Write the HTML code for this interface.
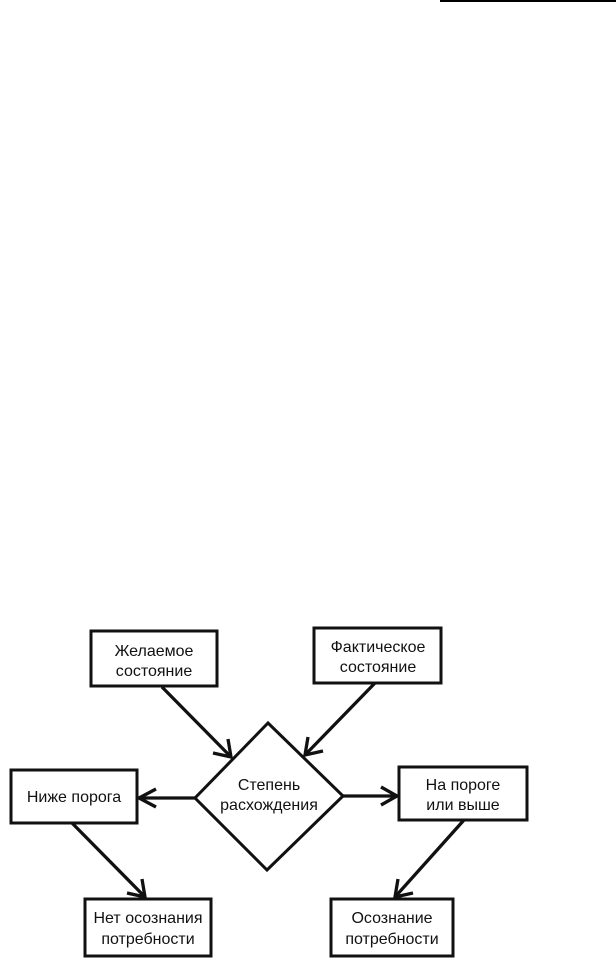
<!DOCTYPE html>
<html><head><meta charset="utf-8"><style>
html,body{margin:0;padding:0;background:#fff;}
svg{display:block;}
text{font-family:"Liberation Sans","DejaVu Sans",sans-serif;font-size:16px;fill:#111;text-anchor:middle;}
</style></head><body>
<svg width="616" height="973" viewBox="0 0 616 973" xmlns="http://www.w3.org/2000/svg">
<line x1="440" y1="1" x2="616" y2="1" stroke="#000" stroke-width="2"/>
<g fill="#fff" stroke="#111" stroke-width="3">
<rect x="91" y="631" width="126" height="55"/>
<rect x="314" y="628" width="127" height="55"/>
<rect x="11" y="770" width="126" height="53"/>
<rect x="399" y="767" width="128" height="53"/>
<rect x="85" y="899" width="126" height="57"/>
<rect x="331" y="899" width="122" height="57"/>
<polygon points="268,723 343,796 267,870 195,798"/>
</g>
<g stroke="#111" stroke-width="3.3" fill="none">
<line x1="162" y1="687" x2="231" y2="757"/>
<polyline points="213,753 231,757 228,739"/>
<line x1="375" y1="683" x2="305" y2="755"/>
<polyline points="308,737 305,755 323,751"/>
<line x1="195" y1="798" x2="139" y2="798"/>
<polyline points="156,789 139,798 156,807"/>
<line x1="343" y1="796" x2="397" y2="796"/>
<polyline points="381,787 397,796 381,805"/>
<line x1="72" y1="823" x2="145" y2="897"/>
<polyline points="127,893 145,897 142,879"/>
<line x1="464" y1="820" x2="395" y2="897"/>
<polyline points="398,879 395,897 413,893"/>
</g>
<text x="154" y="656">Желаемое</text>
<text x="154" y="676">состояние</text>
<text x="378" y="652">Фактическое</text>
<text x="378" y="672">состояние</text>
<text x="269" y="790">Степень</text>
<text x="269" y="810">расхождения</text>
<text x="74" y="802">Ниже порога</text>
<text x="463" y="790">На пороге</text>
<text x="463" y="810">или выше</text>
<text x="148" y="923">Нет осознания</text>
<text x="148" y="944">потребности</text>
<text x="392" y="923">Осознание</text>
<text x="392" y="944">потребности</text>
</svg>
</body></html>
